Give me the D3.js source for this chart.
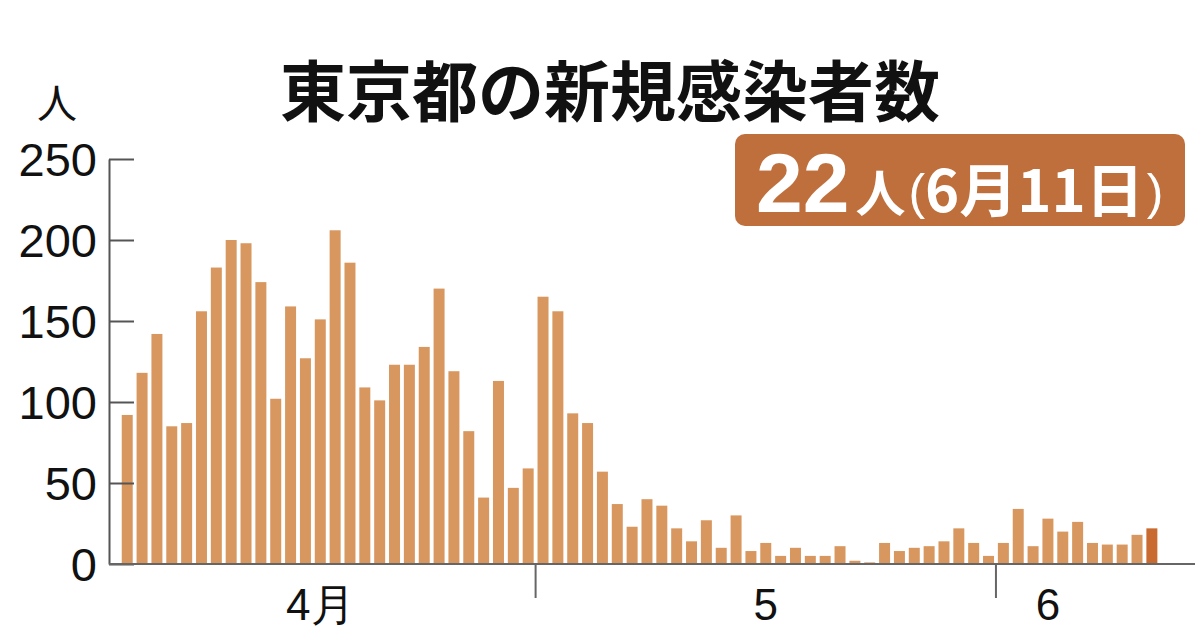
<!DOCTYPE html>
<html>
<head>
<meta charset="utf-8">
<script src="https://cdn.jsdelivr.net/npm/d3@7"></script>
<style>
  body { margin: 0; background: #fff; }
  svg { display: block; }
  .num { font-family: "Liberation Sans Narrow", "Arial Narrow", "Liberation Sans", sans-serif; }
  .jp { font-family: "Noto Sans CJK JP", "Noto Sans", sans-serif; }
</style>
</head>
<body>
<svg width="1200" height="628"></svg>
<script>
// 日付（4月3日〜6月11日）
var aprDays = d3.range(3, 31).map(function (d) { return "4/" + d; }),
    mayDays = d3.range(1, 32).map(function (d) { return "5/" + d; }),
    junDays = d3.range(1, 12).map(function (d) { return "6/" + d; });
var days = aprDays.concat(mayDays, junDays);

// 新規感染者数
var aprCases = [92, 118, 142, 85, 87, 156, 183, 200, 198, 174, 102, 159, 127, 151,
                206, 186, 109, 101, 123, 123, 134, 170, 119, 82, 41, 113, 47, 59];
var mayCases = [165, 156, 93, 87, 57, 37, 23, 40, 36, 22, 14, 27, 10, 30, 8, 13,
                5, 10, 5, 5, 11, 2, 1, 13, 8, 10, 11, 14, 22, 13, 5];
var junCases = [13, 34, 11, 28, 20, 26, 13, 12, 12, 18, 22];
var cases = aprCases.concat(mayCases, junCases);

var yTicks = [0, 50, 100, 150, 200, 250];
// 月の区切り（その月の初日）とラベル位置
var monthStarts = ["5/1", "6/1"];
var monthLabels = [
    { label: "4月", day: "4/16" },
    { label: "5", day: "5/16" },
    { label: "6", day: "6/4" }
];

var data = days.map(function (d, i) { return { day: d, value: cases[i] }; });

var svg = d3.select("svg");

var x = d3.scaleBand()
    .domain(days)
    .range([119.8, 1159.3])
    .paddingInner(0.26)
    .paddingOuter(0.13);

var y = d3.scaleLinear()
    .domain([0, 250])
    .range([564, 159]);

var axisX = 109;

// タイトル
svg.append("text")
    .attr("class", "jp")
    .attr("x", 610)
    .attr("y", 116)
    .attr("text-anchor", "middle")
    .attr("font-size", 66)
    .attr("font-weight", 700)
    .attr("fill", "#111")
    .text("東京都の新規感染者数");

// 単位
svg.append("text")
    .attr("class", "jp")
    .attr("x", 57)
    .attr("y", 118)
    .attr("text-anchor", "middle")
    .attr("font-size", 40)
    .attr("fill", "#111")
    .text("人");

// 棒
svg.selectAll(".bar")
    .data(data)
    .enter().append("rect")
    .attr("class", "bar")
    .attr("x", function (d) { return x(d.day); })
    .attr("width", x.bandwidth())
    .attr("y", function (d) { return y(d.value); })
    .attr("height", function (d) { return y(0) - y(d.value); })
    .attr("fill", function (d, i) { return i === data.length - 1 ? "#c96b30" : "#d8975f"; });

// Y軸（目盛りは内側）
var gy = svg.append("g")
    .attr("transform", "translate(" + axisX + ",0)")
    .call(d3.axisRight(y).tickValues(yTicks).tickSize(25).tickSizeOuter(0).tickFormat(""));
gy.selectAll("path, line").attr("stroke", "#555").attr("stroke-width", 2);

var gyl = svg.append("g")
    .attr("class", "num")
    .attr("transform", "translate(" + axisX + ",0)")
    .call(d3.axisLeft(y).tickValues(yTicks).tickSize(0).tickPadding(12));
gyl.select(".domain").remove();
gyl.selectAll("text")
    .attr("font-size", 47)
    .attr("fill", "#111")
    .attr("dy", "0.36em");

// X軸
var gap = x.step() - x.bandwidth();
svg.append("line")
    .attr("x1", axisX).attr("x2", 1195)
    .attr("y1", y(0)).attr("y2", y(0))
    .attr("stroke", "#666").attr("stroke-width", 2);

svg.selectAll(".sep")
    .data(monthStarts)
    .enter().append("line")
    .attr("class", "sep")
    .attr("x1", function (d) { return x(d) - gap / 2; })
    .attr("x2", function (d) { return x(d) - gap / 2; })
    .attr("y1", y(0)).attr("y2", 598)
    .attr("stroke", "#666").attr("stroke-width", 2);

svg.selectAll(".mlabel")
    .data(monthLabels)
    .enter().append("text")
    .attr("class", "mlabel num")
    .attr("x", function (d) { return x(d.day) + x.bandwidth() / 2; })
    .attr("y", 620)
    .attr("text-anchor", "middle")
    .attr("font-size", 44)
    .attr("fill", "#111")
    .text(function (d) { return d.label; });

// 最新値の帯
var last = data[data.length - 1];
svg.append("rect")
    .attr("x", 735).attr("y", 134)
    .attr("width", 450).attr("height", 92)
    .attr("rx", 10)
    .attr("fill", "#bf6f3b");

var badge = svg.append("text")
    .attr("x", 756)
    .attr("y", 212)
    .attr("fill", "#fff")
    .attr("font-weight", 700);
badge.append("tspan")
    .attr("font-family", "Liberation Sans, Arial, sans-serif")
    .attr("font-size", 84)
    .text(last.value);
badge.append("tspan")
    .attr("class", "jp")
    .attr("font-size", 50)
    .attr("dx", 6)
    .text("人");
badge.append("tspan")
    .attr("font-family", "Liberation Sans, Arial, sans-serif")
    .attr("font-size", 50)
    .attr("font-weight", 400)
    .attr("dx", 3)
    .attr("dy", -3)
    .text("(");
badge.append("tspan")
    .attr("class", "jp")
    .attr("font-size", 58)
    .attr("dy", 3)
    .text("6月11日");
badge.append("tspan")
    .attr("font-family", "Liberation Sans, Arial, sans-serif")
    .attr("font-size", 50)
    .attr("font-weight", 400)
    .attr("dx", 3)
    .attr("dy", -3)
    .text(")");
</script>
</body>
</html>
